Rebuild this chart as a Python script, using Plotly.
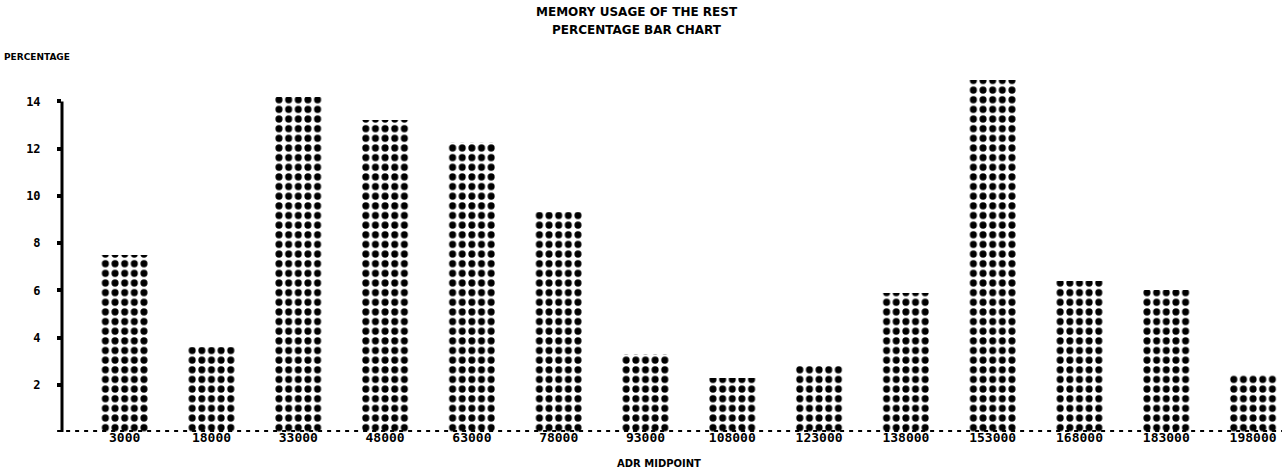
import plotly.graph_objects as go

# ---- data ----
categories = ["3000", "18000", "33000", "48000", "63000", "78000", "93000",
              "108000", "123000", "138000", "153000", "168000", "183000", "198000"]
percentages = [7.5, 3.6, 14.2, 13.2, 12.3, 9.3, 3.3, 2.3, 2.8, 5.9, 14.9, 6.4, 6.0, 2.4]
y_tick_values = [2, 4, 6, 8, 10, 12, 14]
y_tick_labels = ["2", "4", "6", "8", "10", "12", "14"]

title_line1 = "MEMORY USAGE OF THE REST"
title_line2 = "PERCENTAGE BAR CHART"
y_title = "PERCENTAGE"
x_title = "ADR MIDPOINT"

# ---- layout geometry ----
W, H = 1282, 476
ML, MR, MT, MB = 62, 0, 66, 44
plot_w = W - ML - MR
plot_h = H - MT - MB
step_px = 86.8                      # distance between bar centres
tile = step_px / 9                  # dot pitch
x_start = -0.7222
x_end = x_start + plot_w / step_px
y_max = 15.5

positions = list(range(len(categories)))

fig = go.Figure()
fig.add_trace(go.Bar(
    x=positions,
    y=percentages,
    width=5 / 9,
    marker=dict(
        color="white",
        line=dict(width=0),
        pattern=dict(shape=".", fgcolor="black", bgcolor="white",
                     size=tile, solidity=0.42, fillmode="replace"),
    ),
    hoverinfo="skip",
))

mono = "DejaVu Sans Mono"
sans = "DejaVu Sans"

fig.update_layout(
    width=W, height=H,
    margin=dict(l=ML, r=MR, t=MT, b=MB, pad=0),
    paper_bgcolor="white", plot_bgcolor="white",
    showlegend=False,
    bargap=0,
    xaxis=dict(
        range=[x_start, x_end],
        tickmode="array", tickvals=positions, ticktext=categories,
        showgrid=False, zeroline=False, showline=False, ticks="",
        tickfont=dict(family=mono, size=13, color="black", weight="bold"),
        ticklabelstandoff=-4,
    ),
    yaxis=dict(
        range=[0, y_max],
        tickmode="array", tickvals=y_tick_values, ticktext=y_tick_labels,
        showgrid=False, zeroline=False, showline=False,
        ticks="outside", ticklen=4, tickwidth=4, tickcolor="black",
        tickfont=dict(family=mono, size=12, color="black", weight="bold"),
        ticklabelstandoff=14,
    ),
    shapes=[
        # vertical axis line from 0 to the top tick
        dict(type="line", xref="paper", yref="y", x0=0, x1=0,
             y0=0, y1=max(y_tick_values), line=dict(color="black", width=3)),
        # dotted baseline
        dict(type="line", xref="paper", yref="y", x0=-0.004, x1=1,
             y0=0, y1=0, line=dict(color="black", width=4, dash="4px,5px")),
    ],
    annotations=[
        dict(text=title_line1, xref="paper", yref="paper",
             x=(637 - ML) / plot_w, y=(H - MB - 12) / plot_h,
             showarrow=False, xanchor="center", yanchor="middle",
             font=dict(family=sans, size=12, color="black", weight="bold")),
        dict(text=title_line2, xref="paper", yref="paper",
             x=(637 - ML) / plot_w, y=(H - MB - 30) / plot_h,
             showarrow=False, xanchor="center", yanchor="middle",
             font=dict(family=sans, size=12, color="black", weight="bold")),
        dict(text=y_title, xref="paper", yref="paper",
             x=(2 - ML) / plot_w, y=(H - MB - 57) / plot_h,
             showarrow=False, xanchor="left", yanchor="middle",
             font=dict(family=sans, size=9, color="black", weight="bold")),
        dict(text=x_title, xref="paper", yref="paper",
             x=(659 - ML) / plot_w, y=(H - MB - 463) / plot_h,
             showarrow=False, xanchor="center", yanchor="middle",
             font=dict(family=sans, size=10, color="black", weight="bold")),
    ],
)

fig.write_html("out.html")
